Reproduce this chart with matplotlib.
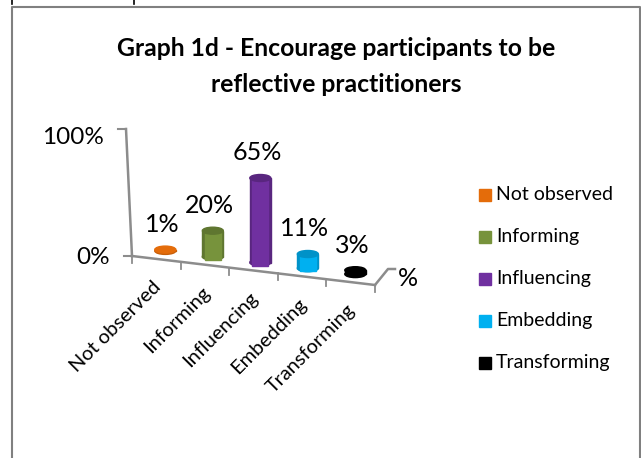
import matplotlib
matplotlib.use("Agg")
import matplotlib.pyplot as plt
from matplotlib.patches import Ellipse, Rectangle

plt.rcParams['font.family'] = ['Lato', 'DejaVu Sans']

categories = ["Not observed", "Informing", "Influencing", "Embedding", "Transforming"]
values = [1, 20, 65, 11, 3]
colors = ["#E46C0A", "#77933C", "#7030A0", "#00B0F0", "#000000"]
dark_colors = ["#C75E08", "#5F7630", "#59267F", "#0092C8", "#000000"]
y_ticks = [0, 100]
title_lines = ["Graph 1d - Encourage participants to be", "reflective practitioners"]
series_name = "%"

# the picture is laid out in pixels, y going down
fig = plt.figure(figsize=(6.41, 4.58), dpi=100)
ax = fig.add_axes([0, 0, 1, 1])
ax.set_xlim(0, 641)
ax.set_ylim(458, 0)
ax.axis("off")

gray = "#8C8C8C"
x0, y0 = 132, 256
step_x, step_y = 48.6, 5.8
px_per_pct = 1.3


def wall(v):
    return x0 - 6 * v / 100, y0 - 127 * v / 100


def floor(i):
    return x0 + step_x * i, y0 + step_y * i


def bar_pos(i):
    x, y = floor(i + 0.5)
    return x + 9 - 1.1 * i, y - 8


# chart frame
ax.plot([11.5, 11.5, 640, 640], [458, 7, 7, 458], color="#808080", lw=1.5)
ax.plot([12, 12], [0, 4], color="black", lw=1.2)
ax.plot([134, 134], [0, 4], color="black", lw=1.2)

for k, line in enumerate(title_lines):
    ax.text(336, 49 + 35 * k, line, ha="center", va="center", fontsize=17.8, fontweight="bold", color="black")

# axes walls
ax.plot([wall(0)[0], wall(100)[0]], [wall(0)[1], wall(100)[1]], color=gray, lw=1.8)
ax.plot([x0, floor(5)[0]], [y0, floor(5)[1]], color=gray, lw=1.8)
for t in y_ticks:
    wx, wy = wall(t)
    ax.plot([wx - 8, wx], [wy, wy], color=gray, lw=1.5)
    ax.text(wx - 22, wy + 2 + 6 * t / 100, "%d%%" % t, ha="right", va="center", fontsize=17.5, color="black")

for i in range(6):
    fx, fy = floor(i)
    ax.plot([fx, fx], [fy, fy + 7], color=gray, lw=1.3)

# depth axis for the series
ex, ey = floor(5)
ax.plot([ex, ex + 13, ex + 20], [ey, ey - 16, ey - 16], color=gray, lw=1.8)
ax.text(ex + 33, ey - 7, series_name, ha="center", va="center", fontsize=18, color="black")

# cylinders
for i, v in enumerate(values):
    cx, base = bar_pos(i)
    h = v * px_per_pct
    top = base - h
    w = 21
    ax.add_patch(Ellipse((cx, base), w, 7, color=dark_colors[i], zorder=3))
    ax.add_patch(Rectangle((cx - w / 2, top), w, h, color=dark_colors[i], zorder=3))
    # lighter middle only where the cylinder is tall enough to show a side
    if h > 5:
        ax.add_patch(Rectangle((cx - w / 2 + 2.5, top), w - 5, h + 3, color=colors[i], zorder=3))
    ax.add_patch(Ellipse((cx, top), w, 7, color=dark_colors[i] if h > 5 else colors[i], zorder=4))
    ax.text(cx - 3, top - 25, "%d%%" % v, ha="center", va="center", fontsize=18, color="black", zorder=5)

# rotated category labels
for i, cat in enumerate(categories):
    fx, fy = floor(i + 0.5)
    ax.text(fx - 4, fy + 19, cat, rotation=45, rotation_mode="anchor", ha="right", va="top", fontsize=14.4, color="black")

# legend
for i, cat in enumerate(categories):
    ly = 194.5 + 42 * i
    ax.add_patch(Rectangle((479, ly - 6), 12, 12, color=colors[i]))
    ax.text(496, ly, cat, ha="left", va="center", fontsize=14, color="black")

fig.savefig("out.png", dpi=100)
